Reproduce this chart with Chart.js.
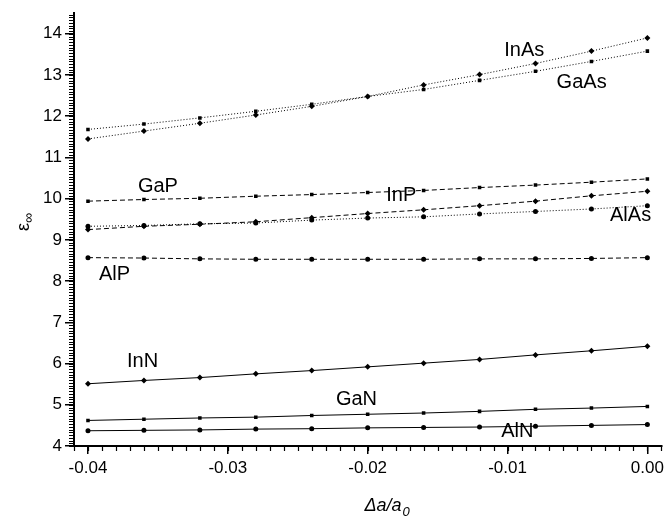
<!DOCTYPE html>
<html>
<head>
<meta charset="utf-8">
<script src="https://cdn.jsdelivr.net/npm/chart.js@4/dist/chart.umd.min.js"></script>
<style>
  html, body { margin: 0; padding: 0; background: #fff; }
  #wrap { width: 668px; height: 520px; position: relative; }
</style>
</head>
<body>
<div id="wrap"><canvas id="c" width="668" height="520"></canvas></div>
<script>
// ---- data ----
const strain = [-0.04, -0.036, -0.032, -0.028, -0.024, -0.02, -0.016, -0.012, -0.008, -0.004, 0.0];
const inAs = [11.45, 11.64, 11.83, 12.03, 12.24, 12.48, 12.76, 13.01, 13.28, 13.58, 13.90];
const gaAs = [11.68, 11.81, 11.96, 12.12, 12.29, 12.48, 12.65, 12.87, 13.09, 13.33, 13.58];
const gaP  = [9.94, 9.98, 10.01, 10.06, 10.10, 10.15, 10.20, 10.27, 10.33, 10.40, 10.48];
const inP  = [9.25, 9.33, 9.38, 9.44, 9.54, 9.64, 9.73, 9.83, 9.94, 10.07, 10.18];
const alAs = [9.33, 9.35, 9.39, 9.41, 9.48, 9.53, 9.56, 9.63, 9.69, 9.75, 9.83];
const alP  = [8.57, 8.56, 8.54, 8.53, 8.53, 8.53, 8.53, 8.54, 8.54, 8.55, 8.57];
const inN  = [5.51, 5.59, 5.66, 5.75, 5.83, 5.92, 6.01, 6.10, 6.21, 6.31, 6.42];
const gaN  = [4.62, 4.65, 4.68, 4.70, 4.74, 4.77, 4.80, 4.84, 4.89, 4.92, 4.96];
const alN  = [4.37, 4.38, 4.39, 4.41, 4.42, 4.44, 4.45, 4.46, 4.48, 4.50, 4.52];

const xMajorTicks = [-0.04, -0.03, -0.02, -0.01, 0.0];
const yMajorTicks = [4, 5, 6, 7, 8, 9, 10, 11, 12, 13, 14];

// curve labels: [text, x, y] in data units
const curveLabels = [
  ['InAs', -0.0088, 13.60],
  ['GaAs', -0.0047, 12.83],
  ['GaP', -0.0350, 10.29],
  ['InP', -0.0176, 10.07],
  ['AlAs', -0.0012, 9.59],
  ['AlP', -0.0381, 8.15],
  ['InN', -0.0361, 6.06],
  ['GaN', -0.0208, 5.13],
  ['AlN', -0.0093, 4.36]
];

const DOT = [1, 2];
const DASH = [5, 3];
function series(name, vals, style, dash, radius) {
  return {
    label: name,
    data: strain.map((x, i) => ({ x: x, y: vals[i] })),
    showLine: true,
    borderColor: '#000',
    backgroundColor: '#000',
    borderWidth: 1,
    borderDash: dash,
    pointStyle: style,
    pointRadius: radius,
    pointBorderWidth: 0,
    pointBackgroundColor: '#000',
    tension: 0
  };
}

const datasets = [
  series('InAs', inAs, 'rectRot', DOT, 3),
  series('GaAs', gaAs, 'rect', DOT, 2.5),
  series('GaP', gaP, 'rect', DASH, 2.5),
  series('InP', inP, 'rectRot', DASH, 3),
  series('AlAs', alAs, 'circle', DOT, 2.5),
  series('AlP', alP, 'circle', DASH, 2.5),
  series('InN', inN, 'rectRot', [], 3),
  series('GaN', gaN, 'rect', [], 2.5),
  series('AlN', alN, 'circle', [], 2.5)
];

const FONT = '"Liberation Sans", Arial, sans-serif';

const extras = {
  id: 'extras',
  afterDraw(chart) {
    const ctx = chart.ctx;
    const xs = chart.scales.x, ys = chart.scales.y;
    const area = chart.chartArea;
    ctx.save();
    ctx.strokeStyle = '#000';
    ctx.lineWidth = 1.2;
    // minor x ticks (every 0.001)
    ctx.beginPath();
    for (let k = -41; k <= 1; k++) {
      const v = k / 1000;
      const px = Math.round(xs.getPixelForValue(v)) + 0.5;
      ctx.moveTo(px, area.bottom);
      ctx.lineTo(px, area.bottom + 5);
    }
    // minor y ticks (15 per unit)
    for (let k = 0; k <= 157; k++) {
      const v = 4 + k / 15;
      if (v > 14.5001) break;
      const py = Math.round(ys.getPixelForValue(v)) + 0.5;
      ctx.moveTo(area.left, py);
      ctx.lineTo(area.left - 5, py);
    }
    ctx.stroke();

    // curve labels
    ctx.fillStyle = '#000';
    ctx.font = '20px ' + FONT;
    ctx.textAlign = 'center';
    ctx.textBaseline = 'middle';
    curveLabels.forEach(([t, x, y]) => {
      ctx.fillText(t, xs.getPixelForValue(x), ys.getPixelForValue(y));
    });

    // x axis title: Δa/a0
    const cx = (area.left + area.right) / 2 + 19;
    const by = 511;
    ctx.textBaseline = 'alphabetic';
    ctx.textAlign = 'left';
    ctx.font = 'italic 18px ' + FONT;
    const main = 'Δa/a';
    const w1 = ctx.measureText(main).width;
    ctx.font = 'italic 13px ' + FONT;
    const w2 = ctx.measureText('0').width;
    const start = cx - (w1 + w2) / 2;
    ctx.font = 'italic 18px ' + FONT;
    ctx.fillText(main, start, by);
    ctx.font = 'italic 13px ' + FONT;
    ctx.fillText('0', start + w1 + 1, by + 5);

    // y axis title: ε∞ rotated
    ctx.save();
    ctx.translate(29, 222);
    ctx.rotate(-Math.PI / 2);
    ctx.font = '18px ' + FONT;
    const e1 = ctx.measureText('ε').width;
    ctx.font = '14px ' + FONT;
    const e2 = ctx.measureText('∞').width;
    const s0 = -(e1 + e2) / 2;
    ctx.font = '18px ' + FONT;
    ctx.fillText('ε', s0, 0);
    ctx.font = '14px ' + FONT;
    ctx.fillText('∞', s0 + e1, 4);
    ctx.restore();

    ctx.restore();
  }
};

new Chart(document.getElementById('c'), {
  type: 'scatter',
  data: { datasets: datasets },
  options: {
    responsive: false,
    animation: false,
    events: [],
    layout: { padding: { top: 8, right: 3, left: 0, bottom: 0 } },
    plugins: { legend: { display: false }, tooltip: { enabled: false } },
    scales: {
      x: {
        type: 'linear',
        min: -0.041,
        max: 0.001,
        afterBuildTicks: (s) => { s.ticks = xMajorTicks.map(v => ({ value: v })); },
        afterFit: (s) => { s.height = 74; },
        grid: { display: true, drawOnChartArea: false, drawTicks: true, tickLength: 8, color: '#000', lineWidth: 1.5 },
        border: { display: true, color: '#000', width: 2 },
        ticks: {
          color: '#000',
          font: { family: FONT, size: 17 },
          padding: 4,
          maxRotation: 0,
          callback: (v) => Number(v).toFixed(2)
        }
      },
      y: {
        type: 'linear',
        min: 4,
        max: 14.5,
        afterBuildTicks: (s) => { s.ticks = yMajorTicks.map(v => ({ value: v })); },
        afterFit: (s) => { s.width = 74; },
        grid: { display: true, drawOnChartArea: false, drawTicks: true, tickLength: 9, color: '#000', lineWidth: 1.5 },
        border: { display: true, color: '#000', width: 2 },
        ticks: {
          color: '#000',
          font: { family: FONT, size: 17 },
          padding: 3,
          callback: (v) => String(v)
        }
      }
    }
  },
  plugins: [extras]
});
</script>
</body>
</html>
